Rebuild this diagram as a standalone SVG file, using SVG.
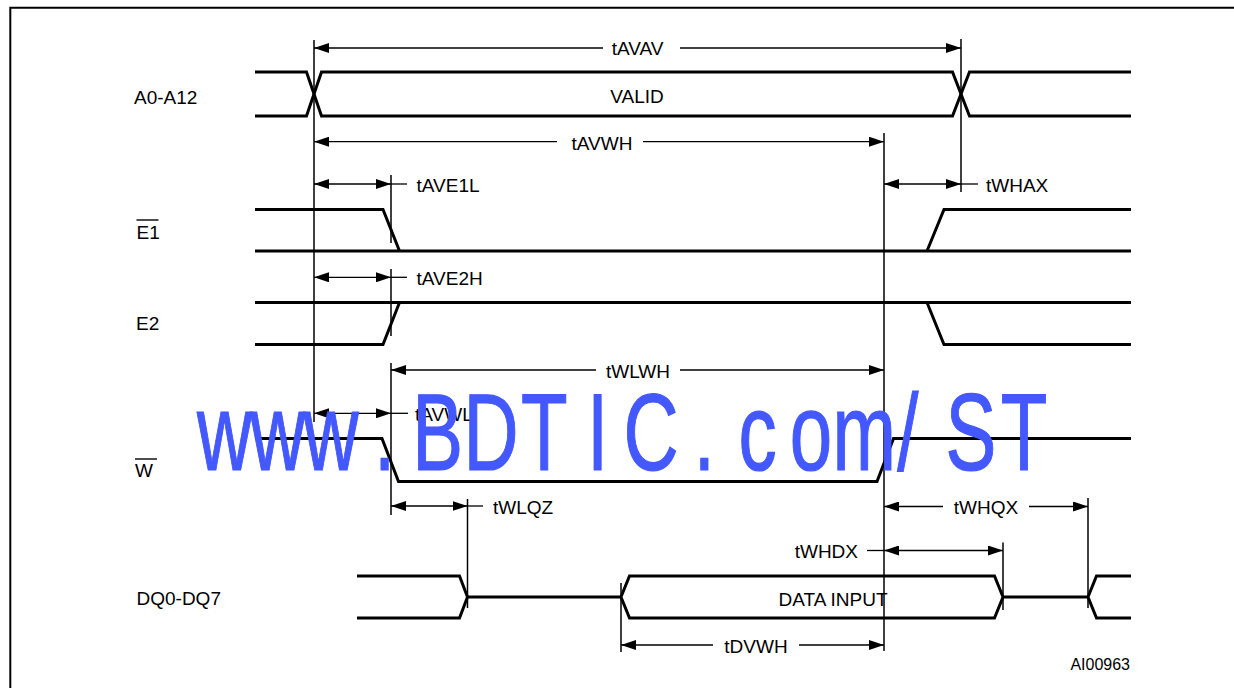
<svg xmlns="http://www.w3.org/2000/svg" width="1234" height="688" viewBox="0 0 1234 688">
<style>
.sig{fill:none;stroke:#000;stroke-width:3;stroke-linejoin:miter}
.ref{fill:none;stroke:#000;stroke-width:1.5}
.dim{fill:none;stroke:#000;stroke-width:1.3}
.bar{stroke:#000;stroke-width:1.4}
text{font-family:"Liberation Sans",Arial,sans-serif;font-size:19px;fill:#000}
.c{text-anchor:middle}
.r{text-anchor:end}
.wm{font-family:"Liberation Sans",Arial,sans-serif;font-size:109px;fill:#4358ff;stroke:#4358ff;stroke-width:1.2;text-anchor:middle}
</style>
<defs>
<marker id="ah" markerWidth="15" markerHeight="10" refX="15" refY="5" orient="auto-start-reverse" markerUnits="userSpaceOnUse">
<path d="M0,0 L15,5 L0,10 z" fill="#000"/>
</marker>
</defs>
<rect width="1234" height="688" fill="#fff"/>
<path d="M10.3,688 V7.7 H1234" fill="none" stroke="#000" stroke-width="2"/>

<g id="sig-a0a12">
<text x="134" y="104">A0-A12</text>
<path class="sig" d="M255,72 H306.5 L321.5,116 H952.5 L969.5,72 H1131"/>
<path class="sig" d="M255,116 H306.5 L321.5,72 H952.5 L969.5,116 H1131"/>
<text class="c" x="637" y="103">VALID</text>
</g>

<g id="sig-e1">
<text x="136.5" y="239">E1</text>
<line class="bar" x1="136.5" y1="220" x2="158.5" y2="220"/>
<path class="sig" d="M255,209.5 H383 L399.5,251"/>
<path class="sig" d="M255,251 H1131"/>
<path class="sig" d="M927,251 L944,209.5 H1131"/>
</g>

<g id="sig-e2">
<text x="136" y="330">E2</text>
<path class="sig" d="M255,302.5 H1131"/>
<path class="sig" d="M255,344.5 H383 L399.5,302.5"/>
<path class="sig" d="M927,302.5 L944,344.5 H1131"/>
</g>

<g id="sig-w">
<text x="135" y="477">W</text>
<line class="bar" x1="135" y1="459" x2="157" y2="459"/>
<path class="sig" d="M255,438.5 H382 L398.5,481.5 H877 L893.5,438.5 H1131"/>
</g>

<g id="sig-dq">
<text x="136.5" y="605">DQ0-DQ7</text>
<path class="sig" d="M357,576 H459.5 L467.5,597 L459.5,618 H357"/>
<path class="sig" d="M467.5,597 H621"/>
<path class="sig" d="M1003,597 L994.5,576 H629.5 L621,597 L629.5,618 H994.5 Z"/>
<path class="sig" d="M1003,597 H1088"/>
<path class="sig" d="M1131,576 H1096.5 L1088,597 L1096.5,618 H1131"/>
<text class="c" x="833" y="605.5">DATA INPUT</text>
</g>

<g id="connectors">
<line class="ref" x1="314" y1="40" x2="314" y2="422"/>
<line class="ref" x1="961" y1="39" x2="961" y2="192"/>
<line class="ref" x1="884" y1="133" x2="884" y2="651"/>
<line class="ref" x1="391" y1="175" x2="391" y2="243"/>
<line class="ref" x1="391" y1="269" x2="391" y2="336"/>
<line class="ref" x1="391" y1="363" x2="391" y2="515"/>
<line class="ref" x1="467.5" y1="499" x2="467.5" y2="608"/>
<line class="ref" x1="1088" y1="498" x2="1088" y2="608"/>
<line class="ref" x1="1003" y1="542.5" x2="1003" y2="610"/>
<line class="ref" x1="621" y1="583" x2="621" y2="652"/>

<line class="dim" x1="314" y1="48" x2="603" y2="48" marker-start="url(#ah)"/>
<line class="dim" x1="680" y1="48" x2="961" y2="48" marker-end="url(#ah)"/>
<line class="dim" x1="314" y1="141.7" x2="557" y2="141.7" marker-start="url(#ah)"/>
<line class="dim" x1="643" y1="141.7" x2="884" y2="141.7" marker-end="url(#ah)"/>
<line class="dim" x1="314" y1="184" x2="391" y2="184" marker-start="url(#ah)" marker-end="url(#ah)"/>
<line class="dim" x1="391" y1="184" x2="407" y2="184"/>
<line class="dim" x1="884" y1="184" x2="961" y2="184" marker-start="url(#ah)" marker-end="url(#ah)"/>
<line class="dim" x1="961" y1="184" x2="978" y2="184"/>
<line class="dim" x1="314" y1="277.3" x2="391" y2="277.3" marker-start="url(#ah)" marker-end="url(#ah)"/>
<line class="dim" x1="391" y1="277.3" x2="407" y2="277.3"/>
<line class="dim" x1="391" y1="370" x2="596" y2="370" marker-start="url(#ah)"/>
<line class="dim" x1="680" y1="370" x2="884" y2="370" marker-end="url(#ah)"/>
<line class="dim" x1="314" y1="413.3" x2="391" y2="413.3" marker-start="url(#ah)" marker-end="url(#ah)"/>
<line class="dim" x1="391" y1="413.3" x2="408" y2="413.3"/>
<line class="dim" x1="391" y1="506" x2="467.5" y2="506" marker-start="url(#ah)" marker-end="url(#ah)"/>
<line class="dim" x1="467.5" y1="506" x2="483" y2="506"/>
<line class="dim" x1="884" y1="506.5" x2="943" y2="506.5" marker-start="url(#ah)"/>
<line class="dim" x1="1029" y1="506.5" x2="1088" y2="506.5" marker-end="url(#ah)"/>
<line class="dim" x1="867" y1="550.5" x2="884" y2="550.5"/>
<line class="dim" x1="884" y1="550.5" x2="1003" y2="550.5" marker-start="url(#ah)" marker-end="url(#ah)"/>
<line class="dim" x1="621" y1="645" x2="713" y2="645" marker-start="url(#ah)"/>
<line class="dim" x1="799" y1="645" x2="884" y2="645" marker-end="url(#ah)"/>
</g>

<g id="labels">
<text class="c" x="637.5" y="55">tAVAV</text>
<text x="571.5" y="149.5">tAVWH</text>
<text x="416.5" y="191.5">tAVE1L</text>
<text x="986" y="191.5">tWHAX</text>
<text x="416.5" y="285">tAVE2H</text>
<text class="c" x="638" y="377.5">tWLWH</text>
<text x="415" y="421">tAVWL</text>
<text x="493" y="514">tWLQZ</text>
<text class="c" x="986" y="514">tWHQX</text>
<text class="r" x="858" y="558">tWHDX</text>
<text class="c" x="756" y="652.5">tDVWH</text>
<text class="r" x="1130" y="670" style="font-size:16px">AI00963</text>
</g>

<g id="watermark" transform="scale(0.7,1)">
<text class="wm" x="320.9 397 473.1 549.3 625.4 701.6 777.7 853.9 930 1006.1 1082.3 1158.4 1234.6 1297.1 1386.9 1463" y="470">www.BDTIC.com/ST</text>
</g>
</svg>
